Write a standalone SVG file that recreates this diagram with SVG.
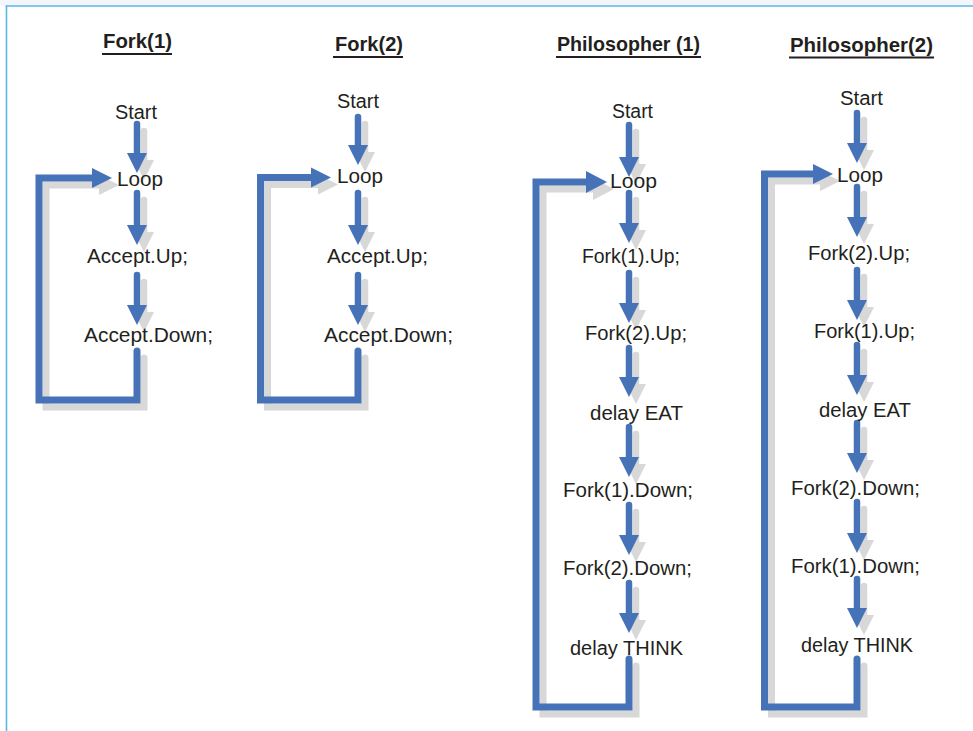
<svg xmlns="http://www.w3.org/2000/svg" xmlns:xlink="http://www.w3.org/1999/xlink" width="973" height="731" viewBox="0 0 973 731">
  <style>
    .lbl { font-family: "Liberation Sans", Arial, sans-serif; font-size: 19.5px; fill: #231f20; }
    .ttl { font-family: "Liberation Sans", Arial, sans-serif; font-size: 21px; font-weight: bold; fill: #231f20; }
    .ul { stroke: #231f20; stroke-width: 2; }
    .shaft { fill: none; stroke: currentColor; stroke-width: 6.5; stroke-linecap: round; }
    .loop { fill: none; stroke: currentColor; stroke-width: 7; stroke-linecap: round; stroke-linejoin: miter; }
    .head { fill: currentColor; stroke: none; }
  </style>
  <defs>
    <!-- all flow lines, drawn twice: once as grey drop shadow, once in blue -->
    <g id="wires">
      <!-- Fork(1) -->
      <path class="shaft" d="M137,124 V155"/><polygon class="head" points="127,153 147,153 137,173"/>
      <path class="shaft" d="M137,193 V227"/><polygon class="head" points="127,225 147,225 137,245"/>
      <path class="shaft" d="M137,275 V307"/><polygon class="head" points="127,305 147,305 137,325"/>
      <path class="loop" d="M137,351 V400 H39 V178 H94"/><polygon class="head" points="92,168 92,188 112,178"/>
      <!-- Fork(2) -->
      <path class="shaft" d="M358,117 V147"/><polygon class="head" points="348,145 368,145 358,165"/>
      <path class="shaft" d="M358,193 V227"/><polygon class="head" points="348,225 368,225 358,245"/>
      <path class="shaft" d="M358,275 V307"/><polygon class="head" points="348,305 368,305 358,325"/>
      <path class="loop" d="M358,351 V400 H260.5 V177.5 H313"/><polygon class="head" points="311,167.5 311,187.5 331,177.5"/>
      <!-- Philosopher (1) -->
      <path class="shaft" d="M629,125 V159"/><polygon class="head" points="619,157 639,157 629,177"/>
      <path class="shaft" d="M629,193 V225"/><polygon class="head" points="619,223 639,223 629,243"/>
      <path class="shaft" d="M629,273 V305"/><polygon class="head" points="619,303 639,303 629,323"/>
      <path class="shaft" d="M629,348 V379"/><polygon class="head" points="619,377 639,377 629,397"/>
      <path class="shaft" d="M629,427 V459"/><polygon class="head" points="619,457 639,457 629,477"/>
      <path class="shaft" d="M629,505 V537"/><polygon class="head" points="619,535 639,535 629,555"/>
      <path class="shaft" d="M629,583 V615"/><polygon class="head" points="619,613 639,613 629,633"/>
      <path class="loop" d="M629,659 V707 H536 V182 H588"/><polygon class="head" points="586,171 586,193 607,182"/>
      <!-- Philosopher(2) -->
      <path class="shaft" d="M857,113 V145"/><polygon class="head" points="847,143 867,143 857,163"/>
      <path class="shaft" d="M857,187 V219"/><polygon class="head" points="847,217 867,217 857,237"/>
      <path class="shaft" d="M857,270 V302"/><polygon class="head" points="847,300 867,300 857,320"/>
      <path class="shaft" d="M857,345 V377"/><polygon class="head" points="847,375 867,375 857,395"/>
      <path class="shaft" d="M857,423 V455"/><polygon class="head" points="847,453 867,453 857,473"/>
      <path class="shaft" d="M857,502 V535"/><polygon class="head" points="847,533 867,533 857,553"/>
      <path class="shaft" d="M857,579 V610"/><polygon class="head" points="847,608 867,608 857,628"/>
      <path class="loop" d="M857,659 V707 H764.5 V174 H815"/><polygon class="head" points="813,164 813,184 833,174"/>
    </g>
  </defs>

  <!-- page frame -->
  <rect x="0" y="0" width="973" height="5.5" fill="#f3f6fa"/>
  <line x1="5.5" y1="6" x2="973" y2="6" stroke="#5cb6e8" stroke-width="1.6"/>
  <line x1="6.5" y1="6" x2="6.5" y2="731" stroke="#5cb6e8" stroke-width="1.6"/>

  <g id="connectors">
    <use xlink:href="#wires" href="#wires" transform="translate(7,7)" color="#d8d8d8"/>
    <use xlink:href="#wires" href="#wires" color="#4672b7"/>
  </g>

  <!-- column titles -->
  <g id="title-fork1"><text class="ttl" x="103" y="48" textLength="69" lengthAdjust="spacingAndGlyphs">Fork(1)</text><line class="ul" x1="102" y1="54" x2="172" y2="54"/></g>
  <g id="title-fork2"><text class="ttl" x="335" y="51" textLength="68" lengthAdjust="spacingAndGlyphs">Fork(2)</text><line class="ul" x1="333" y1="57" x2="403" y2="57"/></g>
  <g id="title-phil1"><text class="ttl" x="557" y="51" textLength="143" lengthAdjust="spacingAndGlyphs">Philosopher (1)</text><line class="ul" x1="556" y1="57" x2="701" y2="57"/></g>
  <g id="title-phil2"><text class="ttl" x="790" y="51.5" textLength="143" lengthAdjust="spacingAndGlyphs">Philosopher(2)</text><line class="ul" x1="789" y1="57.5" x2="934" y2="57.5"/></g>

  <!-- Fork(1) nodes -->
  <g id="f1-start"><text class="lbl" x="115" y="119" textLength="42" lengthAdjust="spacingAndGlyphs">Start</text></g>
  <g id="f1-loop"><text class="lbl" x="117" y="186" textLength="46" lengthAdjust="spacingAndGlyphs">Loop</text></g>
  <g id="f1-up"><text class="lbl" x="87" y="263" textLength="101" lengthAdjust="spacingAndGlyphs">Accept.Up;</text></g>
  <g id="f1-down"><text class="lbl" x="84" y="342" textLength="129" lengthAdjust="spacingAndGlyphs">Accept.Down;</text></g>

  <!-- Fork(2) nodes -->
  <g id="f2-start"><text class="lbl" x="337" y="108" textLength="42" lengthAdjust="spacingAndGlyphs">Start</text></g>
  <g id="f2-loop"><text class="lbl" x="337" y="183" textLength="46" lengthAdjust="spacingAndGlyphs">Loop</text></g>
  <g id="f2-up"><text class="lbl" x="327" y="263" textLength="101" lengthAdjust="spacingAndGlyphs">Accept.Up;</text></g>
  <g id="f2-down"><text class="lbl" x="324" y="342" textLength="129" lengthAdjust="spacingAndGlyphs">Accept.Down;</text></g>

  <!-- Philosopher (1) nodes -->
  <g id="p1-start"><text class="lbl" x="612" y="118" textLength="41" lengthAdjust="spacingAndGlyphs">Start</text></g>
  <g id="p1-loop"><text class="lbl" x="610" y="188" textLength="47" lengthAdjust="spacingAndGlyphs">Loop</text></g>
  <g id="p1-f1up"><text class="lbl" x="582" y="263" textLength="98" lengthAdjust="spacingAndGlyphs">Fork(1).Up;</text></g>
  <g id="p1-f2up"><text class="lbl" x="585" y="340" textLength="102" lengthAdjust="spacingAndGlyphs">Fork(2).Up;</text></g>
  <g id="p1-eat"><text class="lbl" x="590" y="420" textLength="93" lengthAdjust="spacingAndGlyphs">delay EAT</text></g>
  <g id="p1-f1down"><text class="lbl" x="563" y="497" textLength="130" lengthAdjust="spacingAndGlyphs">Fork(1).Down;</text></g>
  <g id="p1-f2down"><text class="lbl" x="563" y="575" textLength="129" lengthAdjust="spacingAndGlyphs">Fork(2).Down;</text></g>
  <g id="p1-think"><text class="lbl" x="570" y="655" textLength="113" lengthAdjust="spacingAndGlyphs">delay THINK</text></g>

  <!-- Philosopher(2) nodes -->
  <g id="p2-start"><text class="lbl" x="840" y="105" textLength="43" lengthAdjust="spacingAndGlyphs">Start</text></g>
  <g id="p2-loop"><text class="lbl" x="837" y="182" textLength="46" lengthAdjust="spacingAndGlyphs">Loop</text></g>
  <g id="p2-f2up"><text class="lbl" x="808" y="260" textLength="102" lengthAdjust="spacingAndGlyphs">Fork(2).Up;</text></g>
  <g id="p2-f1up"><text class="lbl" x="814" y="338" textLength="101" lengthAdjust="spacingAndGlyphs">Fork(1).Up;</text></g>
  <g id="p2-eat"><text class="lbl" x="819" y="417" textLength="92" lengthAdjust="spacingAndGlyphs">delay EAT</text></g>
  <g id="p2-f2down"><text class="lbl" x="791" y="495" textLength="129" lengthAdjust="spacingAndGlyphs">Fork(2).Down;</text></g>
  <g id="p2-f1down"><text class="lbl" x="791" y="573" textLength="129" lengthAdjust="spacingAndGlyphs">Fork(1).Down;</text></g>
  <g id="p2-think"><text class="lbl" x="801" y="652" textLength="112" lengthAdjust="spacingAndGlyphs">delay THINK</text></g>
</svg>
